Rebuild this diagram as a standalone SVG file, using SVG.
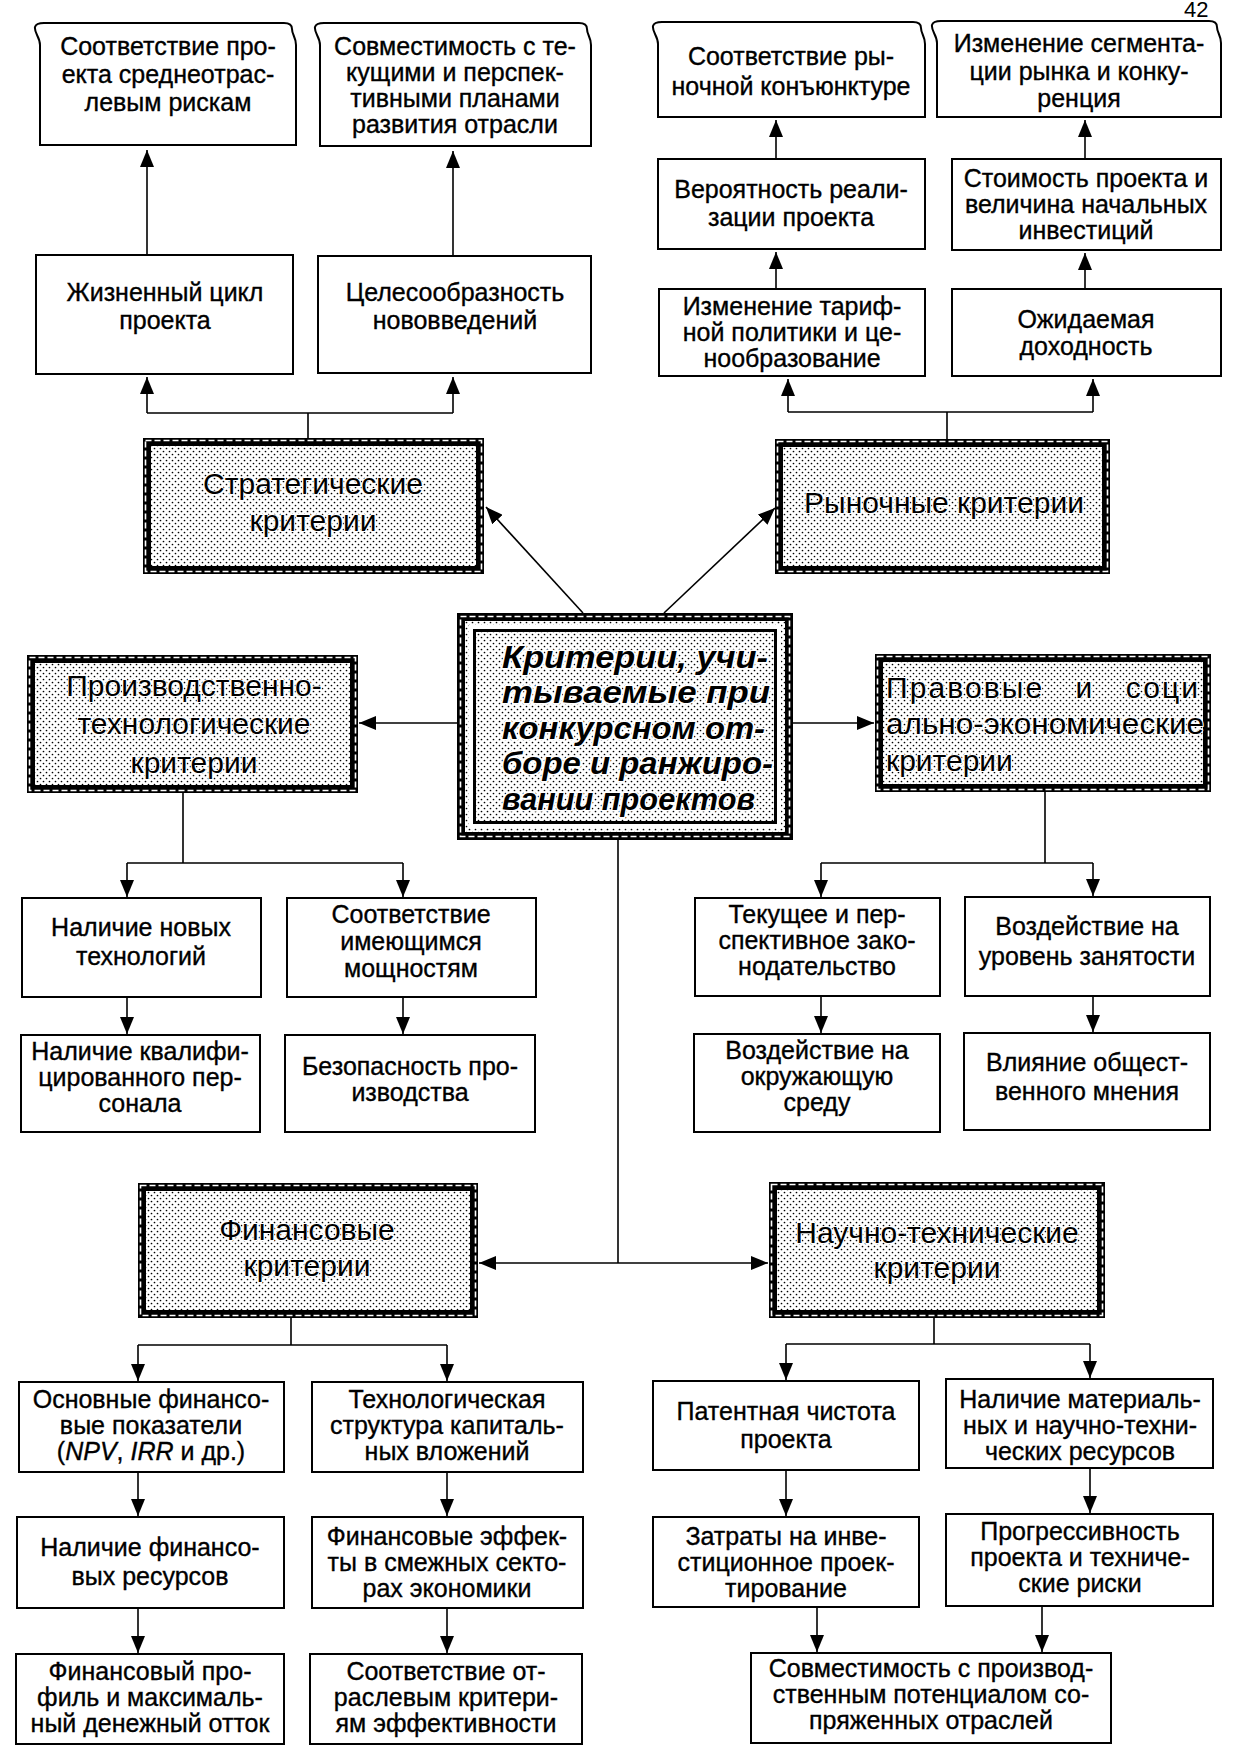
<svg xmlns="http://www.w3.org/2000/svg" width="1235" height="1763" viewBox="0 0 1235 1763">
<defs>
<pattern id="dots" width="6" height="6" patternUnits="userSpaceOnUse">
<rect width="6" height="6" fill="#fff"/>
<circle cx="1.5" cy="1.5" r="0.85" fill="#000"/>
<circle cx="4.5" cy="4.5" r="0.85" fill="#000"/>
</pattern>
<marker id="ah" viewBox="0 0 17 14" refX="17" refY="7" markerWidth="17" markerHeight="14" markerUnits="userSpaceOnUse" orient="auto">
<path d="M0,0 L17,7 L0,14 z" fill="#000"/>
</marker>
</defs>
<style>
.box{fill:#fff;stroke:#000;stroke-width:2}
.t{font-family:"Liberation Sans",Arial,sans-serif;font-size:25px;fill:#000;stroke:#000;stroke-width:0.35;text-anchor:middle}
.band{fill:none;stroke:#000;stroke-width:8}
.dash{fill:none;stroke:#fff;stroke-width:1.6;stroke-dasharray:6 3}
.crit{fill:url(#dots);stroke:none}
.ct{font-family:"Liberation Sans",Arial,sans-serif;font-size:30px;fill:#000;stroke:#fff;stroke-width:2;paint-order:stroke;stroke-linejoin:round;text-anchor:middle}
.cl{text-anchor:start}
.main{font-family:"Liberation Sans",Arial,sans-serif;font-size:31px;font-weight:bold;font-style:italic;fill:#000;stroke:#fff;stroke-width:3;paint-order:stroke;stroke-linejoin:round}
.ln{fill:none;stroke:#000;stroke-width:1.6}
.ar{fill:none;stroke:#000;stroke-width:1.6;marker-end:url(#ah)}
</style>

<text x="1184" y="17" font-family="Liberation Sans,Arial,sans-serif" font-size="22" fill="#000">42</text>

<g id="connectors">
<path class="ar" d="M147,255 V150"/>
<path class="ar" d="M453,256 V151"/>
<path class="ln" d="M308,438 V413 M147,413 H453"/>
<path class="ar" d="M147,413 V377"/>
<path class="ar" d="M453,413 V377"/>
<path class="ar" d="M776,289 V252"/>
<path class="ar" d="M776,159 V120"/>
<path class="ar" d="M1085,289 V253"/>
<path class="ar" d="M1085,159 V120"/>
<path class="ln" d="M947,439 V412 M788,412 H1093"/>
<path class="ar" d="M788,412 V379"/>
<path class="ar" d="M1093,412 V379"/>
<path class="ar" d="M583,613 L486,507"/>
<path class="ar" d="M664,613 L775,508"/>
<path class="ar" d="M457,723 H359"/>
<path class="ar" d="M793,723 H874"/>
<path class="ln" d="M618,840 V1263"/>
<path class="ar" d="M618,1263 H479"/>
<path class="ar" d="M618,1263 H768"/>
<path class="ln" d="M183,793 V863 M127,863 H403"/>
<path class="ar" d="M127,863 V897"/>
<path class="ar" d="M403,863 V897"/>
<path class="ar" d="M127,997 V1034"/>
<path class="ar" d="M403,997 V1034"/>
<path class="ln" d="M1045,792 V863 M821,863 H1093"/>
<path class="ar" d="M821,863 V897"/>
<path class="ar" d="M1093,863 V896"/>
<path class="ar" d="M821,996 V1033"/>
<path class="ar" d="M1093,996 V1032"/>
<path class="ln" d="M291,1318 V1345 M138,1345 H447"/>
<path class="ar" d="M138,1345 V1381"/>
<path class="ar" d="M447,1345 V1381"/>
<path class="ar" d="M138,1472 V1516"/>
<path class="ar" d="M447,1472 V1516"/>
<path class="ar" d="M138,1608 V1653"/>
<path class="ar" d="M447,1608 V1653"/>
<path class="ln" d="M934,1318 V1344 M786,1344 H1090"/>
<path class="ar" d="M786,1344 V1380"/>
<path class="ar" d="M1090,1344 V1378"/>
<path class="ar" d="M786,1470 V1516"/>
<path class="ar" d="M1090,1468 V1513"/>
<path class="ar" d="M817,1607 V1652"/>
<path class="ar" d="M1042,1606 V1652"/>
</g>

<g id="n-sootv-riskam">
<path class="box" d="M40,145 L40,45 C40,37 34,33 35,27 Q36,23 44,23 L284,23 Q292,23 292,29 C292,35 296,37 296,45 L296,145 Z"/>
<text class="t" x="168" y="55">Соответствие про-</text>
<text class="t" x="168" y="83">екта среднеотрас-</text>
<text class="t" x="168" y="111">левым рискам</text>
</g>
<g id="n-sovmest-plany">
<path class="box" d="M320,146 L320,45 C320,37 314,33 315,27 Q316,23 324,23 L579,23 Q587,23 587,29 C587,35 591,37 591,45 L591,146 Z"/>
<text class="t" x="455" y="55">Совместимость с те-</text>
<text class="t" x="455" y="81">кущими и перспек-</text>
<text class="t" x="455" y="107">тивными планами</text>
<text class="t" x="455" y="133">развития отрасли</text>
</g>
<g id="n-zhizn-cikl">
<rect class="box" x="36" y="255" width="257" height="119"/>
<text class="t" x="165" y="301">Жизненный цикл</text>
<text class="t" x="165" y="329">проекта</text>
</g>
<g id="n-celesoobr">
<rect class="box" x="318" y="256" width="273" height="117"/>
<text class="t" x="455" y="301">Целесообразность</text>
<text class="t" x="455" y="329">нововведений</text>
</g>

<g id="n-sootv-rynok">
<path class="box" d="M658,117 L658,44 C658,36 652,32 653,26 Q654,22 662,22 L913,22 Q921,22 921,28 C921,34 925,36 925,44 L925,117 Z"/>
<text class="t" x="791" y="65">Соответствие ры-</text>
<text class="t" x="791" y="95">ночной конъюнктуре</text>
</g>
<g id="n-segment">
<path class="box" d="M937,117 L937,43 C937,35 931,31 932,25 Q933,21 941,21 L1209,21 Q1217,21 1217,27 C1217,33 1221,35 1221,43 L1221,117 Z"/>
<text class="t" x="1079" y="52">Изменение сегмента-</text>
<text class="t" x="1079" y="80">ции рынка и конку-</text>
<text class="t" x="1079" y="107">ренция</text>
</g>
<g id="n-veroyatn">
<rect class="box" x="658" y="159" width="267" height="90"/>
<text class="t" x="791" y="198">Вероятность реали-</text>
<text class="t" x="791" y="226">зации проекта</text>
</g>
<g id="n-stoimost">
<rect class="box" x="952" y="159" width="269" height="91"/>
<text class="t" x="1086" y="187">Стоимость проекта и</text>
<text class="t" x="1086" y="213">величина начальных</text>
<text class="t" x="1086" y="239">инвестиций</text>
</g>
<g id="n-tarif">
<rect class="box" x="659" y="289" width="266" height="87"/>
<text class="t" x="792" y="315">Изменение тариф-</text>
<text class="t" x="792" y="341">ной политики и це-</text>
<text class="t" x="792" y="367">нообразование</text>
</g>
<g id="n-dohodn">
<rect class="box" x="952" y="289" width="269" height="87"/>
<text class="t" x="1086" y="328">Ожидаемая</text>
<text class="t" x="1086" y="355">доходность</text>
</g>

<g id="n-strateg">
<rect class="crit" x="143" y="438" width="341" height="136"/>
<rect class="band" x="147" y="442" width="333" height="128"/>
<rect class="dash" x="145.5" y="440.5" width="336" height="131"/>
<text class="ct" x="313" y="494">Стратегические</text>
<text class="ct" x="313" y="531">критерии</text>
</g>
<g id="n-rynoch">
<rect class="crit" x="775" y="439" width="335" height="135"/>
<rect class="band" x="779" y="443" width="327" height="127"/>
<rect class="dash" x="777.5" y="441.5" width="330" height="130"/>
<text class="ct" x="944" y="513">Рыночные критерии</text>
</g>
<g id="n-center">
<rect class="crit" x="457" y="613" width="336" height="227"/>
<rect class="band" x="461" y="617" width="328" height="219"/>
<rect class="dash" x="460.5" y="616.5" width="329" height="220"/>
<rect x="471" y="627" width="308" height="199" fill="none" stroke="#fff" stroke-width="4"/>
<rect x="474.5" y="630.5" width="301" height="192" fill="none" stroke="#000" stroke-width="3"/>
<text class="main" x="502" y="668" textLength="266" lengthAdjust="spacingAndGlyphs">Критерии, учи-</text>
<text class="main" x="502" y="703" textLength="268" lengthAdjust="spacingAndGlyphs">тываемые при</text>
<text class="main" x="502" y="739" textLength="263" lengthAdjust="spacingAndGlyphs">конкурсном от-</text>
<text class="main" x="502" y="774" textLength="271" lengthAdjust="spacingAndGlyphs">боре и ранжиро-</text>
<text class="main" x="502" y="810" textLength="253" lengthAdjust="spacingAndGlyphs">вании проектов</text>
</g>
<g id="n-proizv">
<rect class="crit" x="27" y="655" width="331" height="138"/>
<rect class="band" x="31" y="659" width="323" height="130"/>
<rect class="dash" x="29.5" y="657.5" width="326" height="133"/>
<text class="ct" x="194" y="696">Производственно-</text>
<text class="ct" x="194" y="734">технологические</text>
<text class="ct" x="194" y="773">критерии</text>
</g>
<g id="n-pravovye">
<rect class="crit" x="875" y="654" width="336" height="138"/>
<rect class="band" x="879" y="658" width="328" height="130"/>
<rect class="dash" x="877.5" y="656.5" width="331" height="133"/>
<text class="ct cl" x="886" y="698" textLength="312" lengthAdjust="spacing" xml:space="preserve">Правовые   и   соци</text>
<text class="ct cl" x="886" y="734" textLength="318" lengthAdjust="spacingAndGlyphs">ально-экономические</text>
<text class="ct cl" x="886" y="771">критерии</text>
</g>
<g id="n-finans">
<rect class="crit" x="138" y="1183" width="340" height="135"/>
<rect class="band" x="142" y="1187" width="332" height="127"/>
<rect class="dash" x="140.5" y="1185.5" width="335" height="130"/>
<text class="ct" x="307" y="1240">Финансовые</text>
<text class="ct" x="307" y="1276">критерии</text>
</g>
<g id="n-nauchno">
<rect class="crit" x="769" y="1182" width="336" height="136"/>
<rect class="band" x="773" y="1186" width="328" height="128"/>
<rect class="dash" x="771.5" y="1184.5" width="331" height="131"/>
<text class="ct" x="937" y="1243">Научно-технические</text>
<text class="ct" x="937" y="1278">критерии</text>
</g>

<g id="n-novye-tech">
<rect class="box" x="22" y="898" width="239" height="99"/>
<text class="t" x="141" y="936">Наличие новых</text>
<text class="t" x="141" y="965">технологий</text>
</g>
<g id="n-moshnost">
<rect class="box" x="287" y="898" width="249" height="99"/>
<text class="t" x="411" y="923">Соответствие</text>
<text class="t" x="411" y="950">имеющимся</text>
<text class="t" x="411" y="977">мощностям</text>
</g>
<g id="n-personal">
<rect class="box" x="21" y="1035" width="239" height="97"/>
<text class="t" x="140" y="1060">Наличие квалифи-</text>
<text class="t" x="140" y="1086">цированного пер-</text>
<text class="t" x="140" y="1112">сонала</text>
</g>
<g id="n-bezopasn">
<rect class="box" x="285" y="1035" width="250" height="97"/>
<text class="t" x="410" y="1075">Безопасность про-</text>
<text class="t" x="410" y="1101">изводства</text>
</g>

<g id="n-zakon">
<rect class="box" x="695" y="898" width="245" height="98"/>
<text class="t" x="817" y="923">Текущее и пер-</text>
<text class="t" x="817" y="949">спективное зако-</text>
<text class="t" x="817" y="975">нодательство</text>
</g>
<g id="n-zanyatost">
<rect class="box" x="965" y="897" width="245" height="99"/>
<text class="t" x="1087" y="935">Воздействие на</text>
<text class="t" x="1087" y="965">уровень занятости</text>
</g>
<g id="n-sreda">
<rect class="box" x="694" y="1034" width="246" height="98"/>
<text class="t" x="817" y="1059">Воздействие на</text>
<text class="t" x="817" y="1085">окружающую</text>
<text class="t" x="817" y="1111">среду</text>
</g>
<g id="n-mnenie">
<rect class="box" x="964" y="1033" width="246" height="97"/>
<text class="t" x="1087" y="1071">Влияние общест-</text>
<text class="t" x="1087" y="1100">венного мнения</text>
</g>

<g id="n-pokazateli">
<rect class="box" x="19" y="1382" width="265" height="90"/>
<text class="t" x="151" y="1408">Основные финансо-</text>
<text class="t" x="151" y="1434">вые показатели</text>
<text class="t" x="151" y="1460">(<tspan font-style="italic">NPV</tspan>, <tspan font-style="italic">IRR</tspan> и др.)</text>
</g>
<g id="n-struktura">
<rect class="box" x="312" y="1382" width="271" height="90"/>
<text class="t" x="447" y="1408">Технологическая</text>
<text class="t" x="447" y="1434">структура капиталь-</text>
<text class="t" x="447" y="1460">ных вложений</text>
</g>
<g id="n-resursy">
<rect class="box" x="17" y="1517" width="267" height="91"/>
<text class="t" x="150" y="1556">Наличие финансо-</text>
<text class="t" x="150" y="1585">вых ресурсов</text>
</g>
<g id="n-effekty">
<rect class="box" x="312" y="1517" width="271" height="91"/>
<text class="t" x="447" y="1545">Финансовые эффек-</text>
<text class="t" x="447" y="1571">ты в смежных секто-</text>
<text class="t" x="447" y="1597">рах экономики</text>
</g>
<g id="n-profil">
<rect class="box" x="16" y="1654" width="268" height="90"/>
<text class="t" x="150" y="1680">Финансовый про-</text>
<text class="t" x="150" y="1706">филь и максималь-</text>
<text class="t" x="150" y="1732">ный денежный отток</text>
</g>
<g id="n-otrasl-krit">
<rect class="box" x="310" y="1654" width="272" height="90"/>
<text class="t" x="446" y="1680">Соответствие от-</text>
<text class="t" x="446" y="1706">раслевым критери-</text>
<text class="t" x="446" y="1732">ям эффективности</text>
</g>

<g id="n-patent">
<rect class="box" x="653" y="1381" width="266" height="89"/>
<text class="t" x="786" y="1420">Патентная чистота</text>
<text class="t" x="786" y="1448">проекта</text>
</g>
<g id="n-material">
<rect class="box" x="946" y="1379" width="267" height="89"/>
<text class="t" x="1080" y="1408">Наличие материаль-</text>
<text class="t" x="1080" y="1434">ных и научно-техни-</text>
<text class="t" x="1080" y="1460">ческих ресурсов</text>
</g>
<g id="n-zatraty">
<rect class="box" x="653" y="1517" width="266" height="90"/>
<text class="t" x="786" y="1545">Затраты на инве-</text>
<text class="t" x="786" y="1571">стиционное проек-</text>
<text class="t" x="786" y="1597">тирование</text>
</g>
<g id="n-progress">
<rect class="box" x="946" y="1514" width="267" height="92"/>
<text class="t" x="1080" y="1540">Прогрессивность</text>
<text class="t" x="1080" y="1566">проекта и техниче-</text>
<text class="t" x="1080" y="1592">ские риски</text>
</g>
<g id="n-sovmest-potenc">
<rect class="box" x="751" y="1653" width="360" height="90"/>
<text class="t" x="931" y="1677">Совместимость с производ-</text>
<text class="t" x="931" y="1703">ственным потенциалом со-</text>
<text class="t" x="931" y="1729">пряженных отраслей</text>
</g>
</svg>
